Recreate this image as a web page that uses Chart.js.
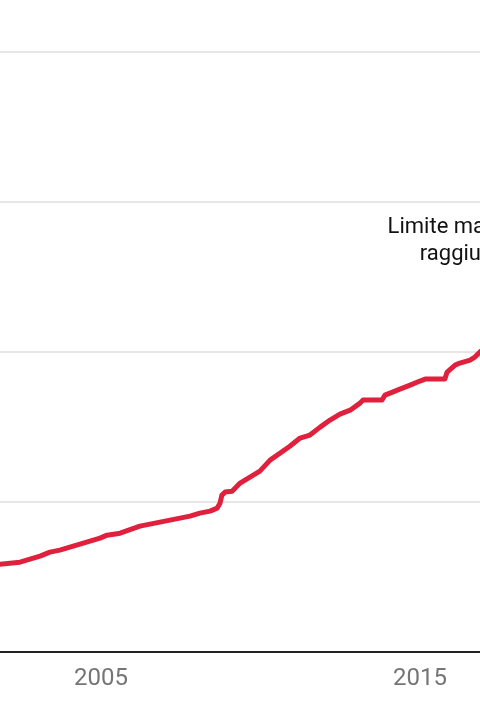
<!DOCTYPE html>
<html lang="it">
<head>
<meta charset="utf-8">
<title>Debito</title>
<script src="https://cdn.jsdelivr.net/npm/chart.js@4/dist/chart.umd.min.js"></script>
<style>
  html, body { margin: 0; padding: 0; background: #fff; }
  canvas { display: block; }
</style>
</head>
<body>
<canvas id="grafico" width="480" height="720"></canvas>
<script>
// Anni (decimali) e debito (migliaia di miliardi)
const anni = [
  2001.80, 2002.46, 2003.09, 2003.40, 2003.71, 2004.34, 2004.97, 2005.19,
  2005.60, 2006.22, 2006.85, 2007.32, 2007.79, 2008.10, 2008.42, 2008.64,
  2008.73, 2008.79, 2008.89, 2009.11, 2009.36, 2009.98, 2010.30, 2010.92,
  2011.24, 2011.55, 2011.87, 2012.18, 2012.49, 2012.81, 2013.12, 2013.21,
  2013.81, 2013.90, 2014.06, 2014.37, 2014.69, 2015.00, 2015.16, 2015.78,
  2015.85, 2016.10, 2016.25, 2016.57, 2016.72, 2016.90
];
const debito = [
  5.85, 6.00, 6.40, 6.67, 6.80, 7.20, 7.60, 7.80,
  7.93, 8.40, 8.67, 8.87, 9.07, 9.27, 9.40, 9.60,
  9.93, 10.47, 10.67, 10.73, 11.27, 12.07, 12.80, 13.73,
  14.27, 14.47, 15.00, 15.47, 15.87, 16.13, 16.60, 16.80,
  16.80, 17.13, 17.27, 17.53, 17.80, 18.07, 18.20, 18.20,
  18.67, 19.13, 19.27, 19.47, 19.67, 20.05
];

// Etichette asse x
const anniEtichette = [2005, 2015];

// Nota sul grafico
const notaTesto = ["Limite massimo", "raggiunto"];
const notaAnno = 2016.45;
const notaValore = 27.4;

// Plugin per la nota
const pluginNota = {
  id: "nota",
  afterDatasetsDraw(chart) {
    const ctx = chart.ctx;
    const x = chart.scales.x.getPixelForValue(notaAnno);
    const y = chart.scales.y.getPixelForValue(notaValore);
    ctx.save();
    ctx.font = "22px Roboto";
    ctx.fillStyle = "#111";
    ctx.textAlign = "center";
    ctx.textBaseline = "middle";
    notaTesto.forEach((riga, i) => {
      ctx.fillText(riga, x, y + (i - (notaTesto.length - 1) / 2) * 27);
    });
    ctx.restore();
  },
};

const ctx = document.getElementById("grafico");

new Chart(ctx, {
  type: "line",
  data: {
    datasets: [
      {
        label: "Debito",
        data: anni.map((a, i) => ({ x: a, y: debito[i] })),
        borderColor: "#e0203d",
        borderWidth: 5,
        borderJoinStyle: "round",
        borderCapStyle: "round",
        pointRadius: 0,
        tension: 0,
      },
    ],
  },
  options: {
    responsive: false,
    animation: false,
    layout: { padding: { top: 52, bottom: 15, left: 0, right: 0 } },
    plugins: {
      legend: { display: false },
      tooltip: { enabled: false },
    },
    scales: {
      x: {
        type: "linear",
        min: 2001.834,
        max: 2016.881,
        afterBuildTicks: (scala) => {
          scala.ticks = anniEtichette.map((v) => ({ value: v }));
        },
        grid: { display: false, drawTicks: false },
        border: { display: true, color: "#222", width: 2 },
        ticks: {
          padding: 12,
          color: "#757575",
          font: { family: "Roboto", size: 24 },
          maxRotation: 0,
          callback: (v) => String(v),
        },
      },
      y: {
        min: 0,
        max: 40,
        ticks: { display: false, stepSize: 10 },
        grid: { color: "#e6e6e6", lineWidth: 2, drawTicks: false },
        border: { display: false },
      },
    },
  },
  plugins: [pluginNota],
});
</script>
</body>
</html>
